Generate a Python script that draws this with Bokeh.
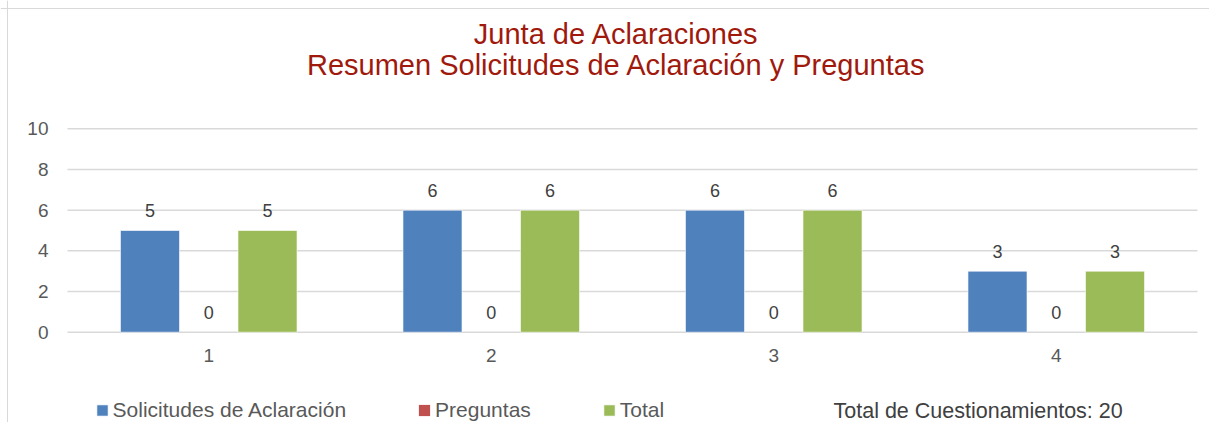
from bokeh.plotting import figure
from bokeh.models import (ColumnDataSource, Range1d, FixedTicker, LabelSet, Label,
                          Legend, LegendItem, Span)
from bokeh.transform import dodge
from bokeh.embed import file_html
from bokeh.resources import INLINE
from bokeh.core.properties import value

# ---- data ----
categories = [1, 2, 3, 4]
solicitudes = [5, 6, 6, 3]
preguntas = [0, 0, 0, 0]
total = [5, 6, 6, 3]
series_names = ["Solicitudes de Aclaración", "Preguntas", "Total"]
title_lines = ["Junta de Aclaraciones", "Resumen Solicitudes de Aclaración y Preguntas"]
y_ticks = [0, 2, 4, 6, 8, 10]
total_cuestionamientos = sum(solicitudes)

colors = ["#4F81BD", "#C0504D", "#9BBB59"]
FONT = "Liberation Sans"

W, H = 1209, 422
# pixel layout of the plotting area inside the figure
PX_L, PX_R = 67, 1197
PX_TOP, PX_BOT = 128.3, 331.7
x_lo, x_hi = min(categories) - 0.5, max(categories) + 0.5
y_lo, y_hi = min(y_ticks), max(y_ticks)
sx = (PX_R - PX_L) / (x_hi - x_lo)
sy = (PX_BOT - PX_TOP) / (y_hi - y_lo)
x_range = Range1d(x_lo - PX_L / sx, x_hi + (W - PX_R) / sx)
y_range = Range1d(y_lo - (H - PX_BOT) / sy, y_hi + PX_TOP / sy)

src = ColumnDataSource(dict(
    x=categories,
    sol=solicitudes,
    pre=preguntas,
    tot=total,
    sol_t=[str(v) for v in solicitudes],
    pre_t=[str(v) for v in preguntas],
    tot_t=[str(v) for v in total],
))

p = figure(width=W, height=H, output_backend="svg", toolbar_location=None,
           x_range=x_range, y_range=y_range, tools="",
           min_border_left=0, min_border_right=0, min_border_top=0,
           min_border_bottom=0)
p.outline_line_color = None
p.background_fill_color = "white"
p.border_fill_color = "white"
p.xgrid.grid_line_color = None
p.ygrid.grid_line_color = None

# chart-area border (left and top)
p.add_layout(Span(location=7, location_units="screen", dimension="height",
                  line_color="#d9d9d9", line_width=1))
p.add_layout(Span(location=H - 8, location_units="screen", dimension="width",
                  line_color="#d9d9d9", line_width=1))

# gridlines, limited to the category span
p.segment(x0=[x_lo] * len(y_ticks), x1=[x_hi] * len(y_ticks), y0=y_ticks, y1=y_ticks,
          line_color="#d9d9d9", line_width=1.5)

off = 0.208
bw = 0.209
r1 = p.vbar(x=dodge("x", -off), top="sol", width=bw, source=src,
            fill_color=colors[0], line_color="white", line_alpha=0.6, line_width=1)
r2 = p.vbar(x="x", top="pre", width=bw, source=src,
            fill_color=colors[1], line_color=None)
r3 = p.vbar(x=dodge("x", off), top="tot", width=bw, source=src,
            fill_color=colors[2], line_color="white", line_alpha=0.6, line_width=1)

# data labels
for xs, col in [(dodge("x", -off), "sol"), ("x", "pre"), (dodge("x", off), "tot")]:
    ls = LabelSet(x=xs, y=col, text=col + "_t", source=src, y_offset=20,
                  text_align="center", text_baseline="middle",
                  text_font=value(FONT), text_font_size="18px", text_color="#404040")
    p.add_layout(ls)

# axes (fixed inside the plotting area)
p.xaxis.ticker = FixedTicker(ticks=categories)
p.yaxis.ticker = FixedTicker(ticks=y_ticks)
p.xaxis.fixed_location = y_lo
p.yaxis.fixed_location = x_lo
for ax in (p.xaxis[0], p.yaxis[0]):
    ax.axis_line_color = None
    ax.major_tick_line_color = None
    ax.minor_tick_line_color = None
    ax.major_tick_in = 0
    ax.major_tick_out = 0
    ax.major_label_text_font = FONT
    ax.major_label_text_font_size = "19px"
    ax.major_label_text_color = "#595959"
p.xaxis.major_label_standoff = 17
p.yaxis.major_label_standoff = 19

# title
cx = (305 + 927) / 2
for t, ty in zip(title_lines, [33.5, 64.5]):
    p.add_layout(Label(x=cx, y=H - ty, x_units="screen", y_units="screen", text=t,
                       text_align="center", text_baseline="middle",
                       text_font=FONT, text_font_size="29px", text_color="#A0190D"))

# total note
p.add_layout(Label(x=833, y=H - 410, x_units="screen", y_units="screen",
                   text="Total de Cuestionamientos: %d" % total_cuestionamientos,
                   text_align="left", text_baseline="middle",
                   text_font=FONT, text_font_size="21.5px", text_color="#404040"))

legend = Legend(items=[LegendItem(label=series_names[0], renderers=[r1]),
                       LegendItem(label=series_names[1], renderers=[r2]),
                       LegendItem(label=series_names[2], renderers=[r3])],
                location=(94.6, 0), orientation="horizontal",
                glyph_width=14, glyph_height=14, label_standoff=4, spacing=71,
                padding=0, margin=0, border_line_color=None,
                background_fill_alpha=0,
                label_text_font=FONT, label_text_font_size="21px",
                label_text_color="#595959")
p.add_layout(legend)

open("out.html", "w").write(file_html(p, INLINE))
